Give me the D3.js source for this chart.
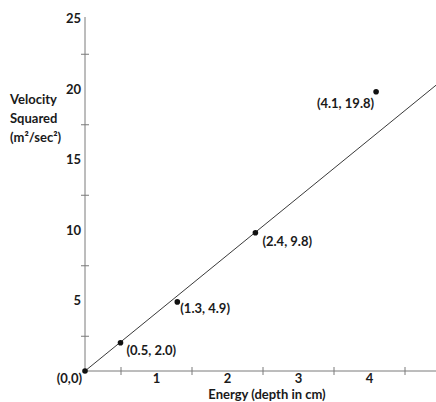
<!DOCTYPE html>
<html>
<head>
<meta charset="utf-8">
<script src="https://cdn.jsdelivr.net/npm/d3@7"></script>
<style>
  body { margin: 0; background: #fff; }
  text { font-family: Lato, 'Open Sans', sans-serif; font-weight: bold; fill: #1a1a1a; }
</style>
</head>
<body>
<div id="chart"></div>
<script>
'use strict'

// measured points
const pointX = [0, 0.5, 1.3, 2.4, 4.1]
const pointY = [0, 2.0, 4.9, 9.8, 19.8]
const pointLabels = ['(0,0)', '(0.5, 2.0)', '(1.3, 4.9)', '(2.4, 9.8)', '(4.1, 19.8)']

// best fit line through origin
const fitSlope = 4.1

// axis ticks: marks sit between the numbered labels
const xTickMarks = [0.5, 1.5, 2.5, 3.5, 4.5]
const xTickLabels = [1, 2, 3, 4, 5]
const yTickMarks = [2.5, 7.5, 12.5, 17.5, 22.5]
const yTickLabels = [5, 10, 15, 20, 25]

const yTitleLines = ['Velocity', 'Squared', '(m²/sec²)']
const xTitle = 'Energy (depth in cm)'

// where each point label goes relative to its dot
const labelPlace = [
  {anchor: 'end', dx: -3, dy: 12},
  {anchor: 'start', dx: 6, dy: 12},
  {anchor: 'start', dx: 3, dy: 11},
  {anchor: 'start', dx: 7, dy: 13},
  {anchor: 'end', dx: -2, dy: 16}
]

const width = 436
const height = 402
const x0 = 85
const y0 = 371

const svg = d3.select('#chart').append('svg')
  .attr('width', width)
  .attr('height', height)

const x = d3.scaleLinear()
  .domain([0, 5])
  .range([x0, x0 + 355])
const y = d3.scaleLinear()
  .domain([0, 25])
  .range([y0, y0 - 352.5])

const axisColor = '#7a7a7a'
const fontSize = 13

// x axis line and crossing tick marks
const xAxisG = svg.append('g')
  .attr('transform', 'translate(0,' + y0 + ')')
  .call(d3.axisBottom(x).tickValues(xTickMarks).tickSizeOuter(0).tickFormat(''))
xAxisG.select('.domain').attr('stroke', axisColor).attr('d', 'M' + x0 + ',0H' + width)
xAxisG.selectAll('.tick line').attr('stroke', axisColor).attr('y1', -4).attr('y2', 4)

svg.append('g')
  .attr('transform', 'translate(0,' + (y0 + 1) + ')')
  .call(d3.axisBottom(x).tickValues(xTickLabels).tickSize(0).tickPadding(2).tickFormat(d3.format('d')))
  .call(g => g.select('.domain').remove())
  .selectAll('text')
  .attr('font-size', fontSize)
  .style('font-family', 'Lato, sans-serif')

// y axis line and crossing tick marks
const yAxisG = svg.append('g')
  .attr('transform', 'translate(' + x0 + ',0)')
  .call(d3.axisLeft(y).tickValues(yTickMarks).tickSizeOuter(0).tickFormat(''))
yAxisG.select('.domain').attr('stroke', axisColor).attr('d', 'M0,' + y0 + 'V17')
yAxisG.selectAll('.tick line').attr('stroke', axisColor).attr('x1', -4).attr('x2', 4)

svg.append('g')
  .attr('transform', 'translate(' + (x0 - 4) + ',0)')
  .call(d3.axisLeft(y).tickValues(yTickLabels).tickSize(0).tickPadding(0).tickFormat(d3.format('d')))
  .call(g => g.select('.domain').remove())
  .selectAll('text')
  .attr('font-size', fontSize)
  .style('font-family', 'Lato, sans-serif')

// fit line
svg.append('clipPath').attr('id', 'plotClip')
  .append('rect').attr('x', x0).attr('y', 0).attr('width', width - x0).attr('height', y0)
svg.append('line')
  .attr('clip-path', 'url(#plotClip)')
  .attr('x1', x(0)).attr('y1', y(0))
  .attr('x2', x(5)).attr('y2', y(5 * fitSlope))
  .attr('stroke', '#222')
  .attr('stroke-width', 0.9)

// points
const pts = pointX.map((d, i) => ({x: d, y: pointY[i], label: pointLabels[i], place: labelPlace[i]}))

svg.selectAll('.dot')
  .data(pts)
  .enter().append('circle')
  .attr('class', 'dot')
  .attr('cx', d => x(d.x))
  .attr('cy', d => y(d.y))
  .attr('r', 2.8)
  .attr('fill', '#111')

svg.selectAll('.ptLabel')
  .data(pts)
  .enter().append('text')
  .attr('class', 'ptLabel')
  .attr('x', d => x(d.x) + d.place.dx)
  .attr('y', d => y(d.y) + d.place.dy)
  .attr('text-anchor', d => d.place.anchor)
  .attr('font-size', fontSize)
  .text(d => d.label)

// axis titles
svg.append('text')
  .attr('x', 10)
  .attr('y', 104)
  .attr('font-size', fontSize)
  .selectAll('tspan')
  .data(yTitleLines)
  .enter().append('tspan')
  .attr('x', 10)
  .attr('dy', (d, i) => i === 0 ? 0 : 19)
  .text(d => d)

svg.append('text')
  .attr('x', 267)
  .attr('y', 399)
  .attr('text-anchor', 'middle')
  .attr('font-size', fontSize)
  .text(xTitle)
</script>
</body>
</html>
